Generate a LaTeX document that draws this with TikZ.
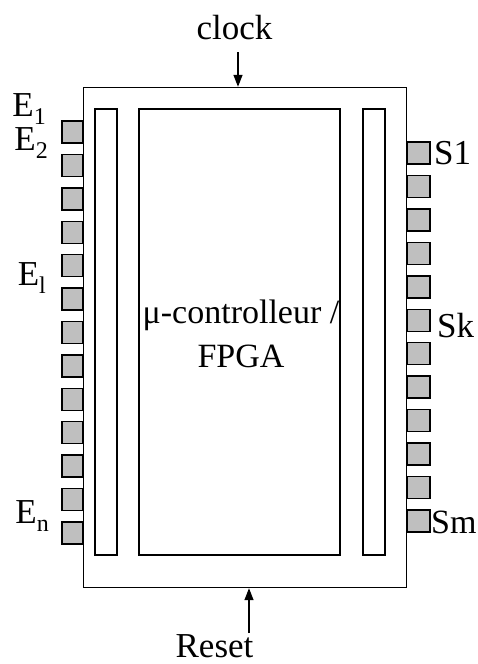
\documentclass[tikz,border=0pt]{standalone}
\usepackage{fontspec}
\setmainfont{Liberation Serif}
\usetikzlibrary{arrows.meta, positioning}

% lowered index for the pin names
\newcommand{\pinsub}[1]{\raisebox{-8pt}{\fontsize{24}{24}\selectfont #1}}

\begin{document}
\begin{tikzpicture}[
  x=1pt, y=-1pt,
  every node/.style={font=\fontsize{35}{44}\selectfont, inner sep=0pt},
  box/.style={rectangle, draw, line width=1.4pt, fill=white},
  bar/.style={box, minimum width=22pt, minimum height=446pt},
  pin/.style={rectangle, draw, line width=1.4pt, fill=black!25,
              minimum width=21pt, minimum height=22pt},
  arr/.style={-{Triangle[length=12pt,width=9pt]}, line width=1.4pt},
]
\useasboundingbox (0,0) rectangle (477,664);

% chip body
\node[box, minimum width=323pt, minimum height=500pt] (chip) at (245,337.5) {};
\node[bar] (lbar) at (106,332) {};
\node[box, minimum width=201pt, minimum height=446pt] (core) at (239.5,332) {};
\node[bar] (rbar) at (374,332) {};
\node[align=center, font=\fontsize{34}{44}\selectfont] (corelbl) at (241,334)
  {μ-controlleur /\\FPGA};

% pins
\foreach \i in {1,...,13}
  \node[pin] (in\i) at (72.5,132+33.4*\i-33.4) {};
\foreach \j in {1,...,12}
  \node[pin, minimum width=23pt] (out\j) at (418.5,153+33.45*\j-33.45) {};

\node[anchor=base east] (e1) at (46,116) {E\pinsub{1}};
\node[anchor=base east] (e2) at (48,150) {E\pinsub{2}};
\node[anchor=base east] (el) at (46,285) {E\pinsub{l}};
\node[anchor=base east] (en) at (49,523) {E\pinsub{n}};
\node[anchor=base west] (s1) at (434,164) {S1};
\node[anchor=base west] (sk) at (437,337) {Sk};
\node[anchor=base west, font=\fontsize{34}{44}\selectfont] (sm) at (431,533) {Sm};

% clock and reset
\node[anchor=base] (clock) at (234.5,39) {clock};
\coordinate (clk) at (238,52);
\draw[arr] (clk) -- (clk |- chip.north);
\node[anchor=base] (reset) at (214.5,657) {Reset};
\coordinate (rst) at (249,633);
\draw[arr] (rst) -- (rst |- chip.south);
\end{tikzpicture}
\end{document}
